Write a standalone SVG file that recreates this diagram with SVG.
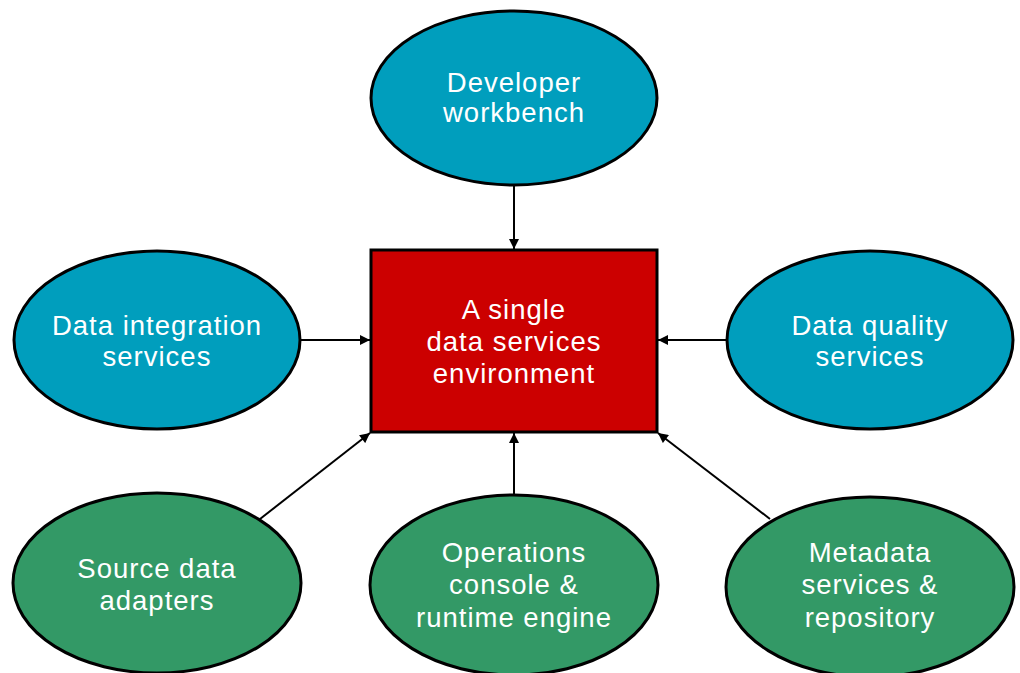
<svg xmlns="http://www.w3.org/2000/svg" width="1020" height="673" viewBox="0 0 1020 673">
<defs>
<style>
.blue{fill:#009EBD;stroke:#000;stroke-width:3}
.green{fill:#339966;stroke:#000;stroke-width:3}
.box{fill:#CC0000;stroke:#000;stroke-width:3}
.t{font-family:"Liberation Sans",Arial,sans-serif;font-size:27.5px;letter-spacing:1px;fill:#fff;text-anchor:middle}
.c{stroke:#000;stroke-width:2;fill:none;marker-end:url(#ah)}
</style>
<marker id="ah" viewBox="0 0 10 10" refX="10" refY="5" markerWidth="11" markerHeight="10" markerUnits="userSpaceOnUse" orient="auto"><path d="M0,0 L10,5 L0,10 Z" fill="#000"/></marker>
</defs>
<rect width="1020" height="673" fill="#fff"/>
<g id="connectors">
<line class="c" x1="514" y1="186" x2="514" y2="249"/>
<line class="c" x1="301" y1="340" x2="370" y2="340"/>
<line class="c" x1="727" y1="340" x2="658" y2="340"/>
<line class="c" x1="260" y1="519" x2="370" y2="433"/>
<line class="c" x1="514" y1="494" x2="514" y2="433"/>
<line class="c" x1="770" y1="519" x2="658" y2="433"/>
</g>
<g id="developer">
<ellipse class="blue" cx="514" cy="98" rx="143" ry="87"/>
<text class="t" x="514" y="92">Developer</text>
<text class="t" x="514" y="122">workbench</text>
</g>
<g id="center">
<rect class="box" x="371" y="250" width="286" height="182"/>
<text class="t" x="514" y="319">A single</text>
<text class="t" x="514" y="351">data services</text>
<text class="t" x="514" y="383">environment</text>
</g>
<g id="integration">
<ellipse class="blue" cx="157" cy="340" rx="143" ry="89"/>
<text class="t" x="157" y="335">Data integration</text>
<text class="t" x="157" y="366">services</text>
</g>
<g id="quality">
<ellipse class="blue" cx="870" cy="340" rx="143" ry="89"/>
<text class="t" x="870" y="335">Data quality</text>
<text class="t" x="870" y="366">services</text>
</g>
<g id="source">
<ellipse class="green" cx="157" cy="583" rx="144" ry="90"/>
<text class="t" x="157" y="578">Source data</text>
<text class="t" x="157" y="610">adapters</text>
</g>
<g id="operations">
<ellipse class="green" cx="514" cy="585" rx="144" ry="90"/>
<text class="t" x="514" y="562">Operations</text>
<text class="t" x="514" y="594">console &amp;</text>
<text class="t" x="514" y="627">runtime engine</text>
</g>
<g id="metadata">
<ellipse class="green" cx="870" cy="587" rx="144" ry="90"/>
<text class="t" x="870" y="562">Metadata</text>
<text class="t" x="870" y="594">services &amp;</text>
<text class="t" x="870" y="627">repository</text>
</g>
</svg>
